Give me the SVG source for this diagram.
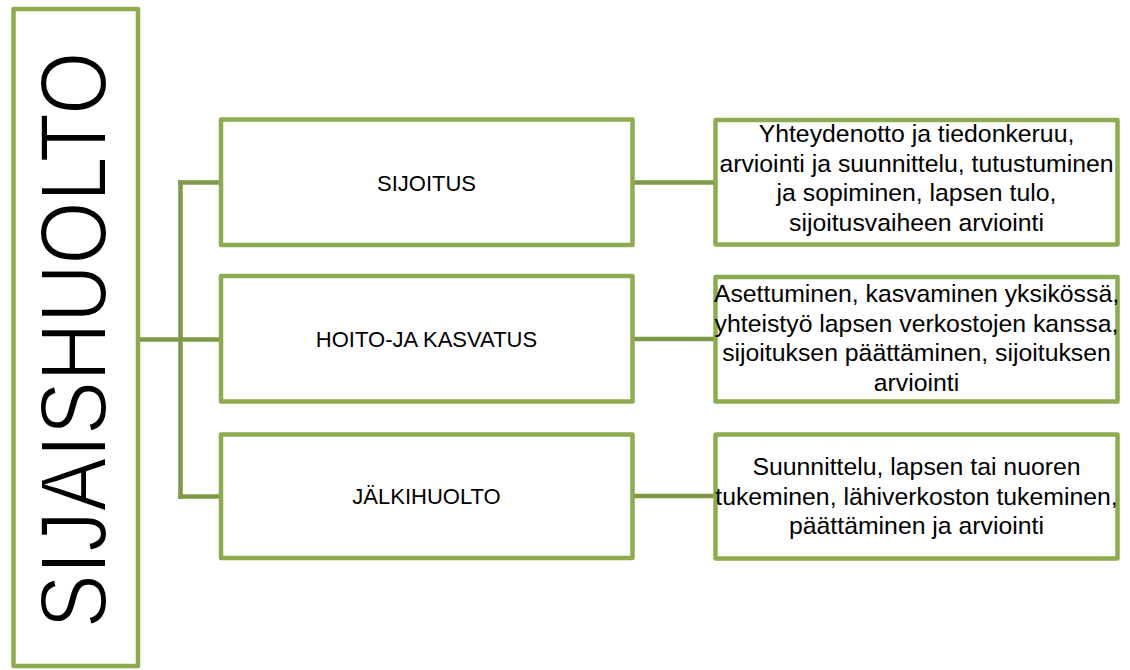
<svg xmlns="http://www.w3.org/2000/svg" width="1130" height="670" viewBox="0 0 1130 670">
<style>
.box{fill:#fff;stroke:#8EAB51;stroke-width:4.5;stroke-linejoin:round}
.con{fill:none;stroke:#7F9A46;stroke-width:4.5;stroke-linecap:square}
.lbl{font-family:"Liberation Sans",Arial,sans-serif;font-size:22px;fill:#000;text-anchor:middle}
.desc{font-family:"Liberation Sans",Arial,sans-serif;font-size:24.8px;fill:#000;text-anchor:middle}
.big{font-family:"Liberation Sans",Arial,sans-serif;font-size:94px;fill:#000;stroke:#fff;stroke-width:2;text-anchor:middle}
</style>
<rect width="1130" height="670" fill="#fff"/>
<g id="connectors">
<path class="con" d="M140 339.5H219"/>
<path class="con" d="M180.5 182.5V496.5"/>
<path class="con" d="M180.5 182.5H219"/>
<path class="con" d="M180.5 496.5H219"/>
<path class="con" d="M634 182.5H713"/>
<path class="con" d="M634 339H713"/>
<path class="con" d="M634 496H713"/>
</g>
<g id="root">
<rect class="box" x="13.5" y="9" width="124.5" height="657"/>
<text class="big" x="0" y="0" transform="translate(106,340) rotate(-90) scale(0.86,1)">SIJAISHUOLTO</text>
</g>
<g id="sijoitus">
<rect class="box" x="221" y="119.5" width="411.5" height="125.5"/>
<text class="lbl" x="426.5" y="191">SIJOITUS</text>
</g>
<g id="hoito">
<rect class="box" x="221" y="276" width="411.5" height="125.5"/>
<text class="lbl" x="426.5" y="347">HOITO-JA KASVATUS</text>
</g>
<g id="jalkihuolto">
<rect class="box" x="221" y="434.5" width="411.5" height="123.5"/>
<text class="lbl" x="426.5" y="504">JÄLKIHUOLTO</text>
</g>
<g id="sijoitus-desc">
<rect class="box" x="715.5" y="120" width="402" height="124.5"/>
<text class="desc" x="916.5" y="142">Yhteydenotto ja tiedonkeruu,</text>
<text class="desc" x="916.5" y="171.5">arviointi ja suunnittelu, tutustuminen</text>
<text class="desc" x="916.5" y="201">ja sopiminen, lapsen tulo,</text>
<text class="desc" x="916.5" y="230.5">sijoitusvaiheen arviointi</text>
</g>
<g id="hoito-desc">
<rect class="box" x="715.5" y="277" width="402" height="124.5"/>
<text class="desc" x="916.5" y="302">Asettuminen, kasvaminen yksikössä,</text>
<text class="desc" x="916.5" y="331.5">yhteistyö lapsen verkostojen kanssa,</text>
<text class="desc" x="916.5" y="361">sijoituksen päättäminen, sijoituksen</text>
<text class="desc" x="916.5" y="390.5">arviointi</text>
</g>
<g id="jalkihuolto-desc">
<rect class="box" x="715.5" y="434.5" width="402" height="124"/>
<text class="desc" x="916.5" y="475">Suunnittelu, lapsen tai nuoren</text>
<text class="desc" x="916.5" y="504.5">tukeminen, lähiverkoston tukeminen,</text>
<text class="desc" x="916.5" y="534">päättäminen ja arviointi</text>
</g>
</svg>
